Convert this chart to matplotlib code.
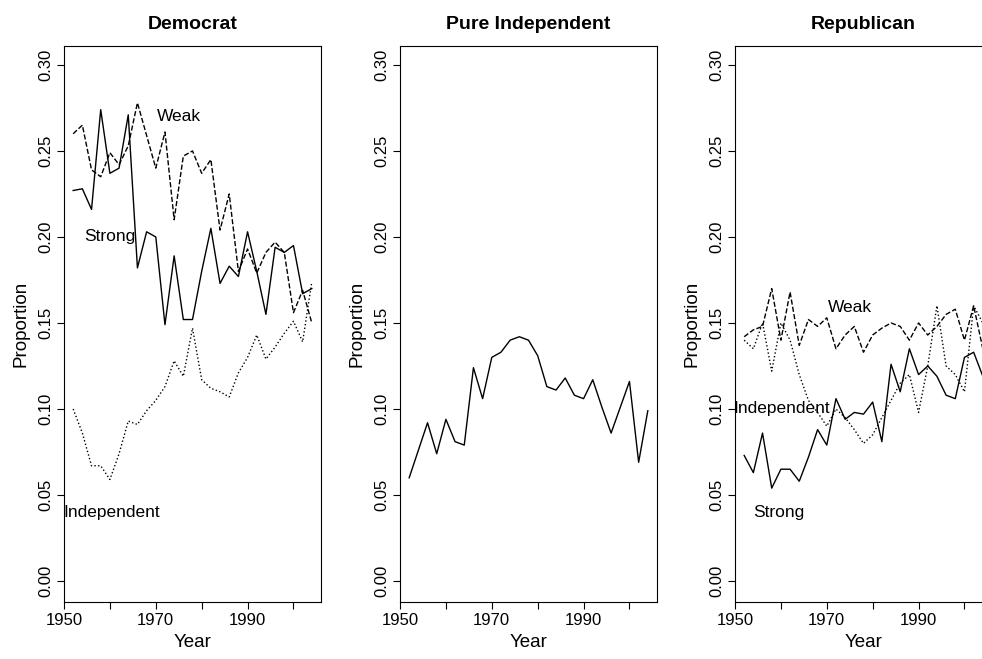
import matplotlib
matplotlib.use("Agg")
import matplotlib.pyplot as plt
import numpy as np

plt.rcParams['font.family'] = ['Liberation Sans', 'DejaVu Sans']

years = np.arange(1952, 2005, 2)

dem_strong = [0.227, 0.228, 0.216, 0.274, 0.237, 0.240, 0.271, 0.182, 0.203, 0.200,
              0.149, 0.189, 0.152, 0.152, 0.180, 0.205, 0.173, 0.183, 0.177, 0.203,
              0.180, 0.155, 0.194, 0.191, 0.195, 0.167, 0.170]
dem_weak = [0.260, 0.265, 0.239, 0.235, 0.249, 0.242, 0.253, 0.278, 0.259, 0.240,
            0.261, 0.210, 0.247, 0.250, 0.237, 0.245, 0.204, 0.225, 0.180, 0.193,
            0.179, 0.191, 0.197, 0.191, 0.156, 0.169, 0.150]
dem_ind = [0.100, 0.086, 0.067, 0.067, 0.059, 0.074, 0.093, 0.091, 0.099, 0.105,
           0.113, 0.128, 0.119, 0.147, 0.117, 0.112, 0.110, 0.107, 0.121, 0.130,
           0.143, 0.129, 0.136, 0.144, 0.151, 0.139, 0.174]

pure_ind = [0.060, 0.076, 0.092, 0.074, 0.094, 0.081, 0.079, 0.124, 0.106, 0.130,
            0.133, 0.140, 0.142, 0.140, 0.131, 0.113, 0.111, 0.118, 0.108, 0.106,
            0.117, 0.101, 0.086, 0.101, 0.116, 0.069, 0.099]

rep_strong = [0.073, 0.063, 0.086, 0.054, 0.065, 0.065, 0.058, 0.072, 0.088, 0.079,
              0.106, 0.094, 0.098, 0.097, 0.104, 0.081, 0.126, 0.110, 0.135, 0.120,
              0.125, 0.119, 0.108, 0.106, 0.130, 0.133, 0.119]
rep_weak = [0.142, 0.146, 0.148, 0.170, 0.140, 0.168, 0.137, 0.152, 0.148, 0.153,
            0.135, 0.143, 0.148, 0.133, 0.143, 0.147, 0.150, 0.148, 0.140, 0.150,
            0.143, 0.148, 0.155, 0.158, 0.140, 0.160, 0.135]
rep_ind = [0.140, 0.135, 0.150, 0.122, 0.150, 0.140, 0.120, 0.105, 0.098, 0.090,
           0.100, 0.095, 0.088, 0.080, 0.085, 0.095, 0.105, 0.115, 0.120, 0.098,
           0.125, 0.160, 0.125, 0.120, 0.110, 0.160, 0.150]

W, H = 982, 659
fig = plt.figure(figsize=(W / 100, H / 100), dpi=100)

def panel(left, title):
    ax = fig.add_axes([left / W, 1 - 602 / H, 257 / W, (602 - 46) / H])
    ax.set_xlim(1950, 2006)
    ax.set_ylim(-0.0122, 0.3110)
    ax.set_xticks([1950, 1960, 1970, 1980, 1990, 2000])
    ax.set_xticklabels(['1950', '', '1970', '', '1990', ''])
    ax.set_yticks(np.arange(0, 0.31, 0.05))
    ax.set_yticklabels(['%.2f' % v for v in np.arange(0, 0.31, 0.05)],
                       rotation=90, va='center')
    ax.tick_params(labelsize=12, length=5, pad=3)
    ax.set_xlabel('Year', fontsize=13.5, labelpad=4)
    ax.set_ylabel('Proportion', fontsize=13.5, labelpad=6)
    ax.set_title(title, fontsize=14, fontweight='bold', pad=12)
    return ax

ax1 = panel(64, 'Democrat')
ax1.plot(years, dem_strong, 'k-', lw=1)
ax1.plot(years, dem_weak, 'k--', lw=1)
ax1.plot(years, dem_ind, 'k:', lw=1)
ax1.text(1970.3, 0.270, 'Weak', fontsize=12.5, va='center')
ax1.text(1954.5, 0.200, 'Strong', fontsize=12.5, va='center')
ax1.text(1949.8, 0.040, 'Independent', fontsize=12.5, va='center')

ax2 = panel(400, 'Pure Independent')
ax2.plot(years, pure_ind, 'k-', lw=1)

ax3 = panel(735, 'Republican')
ax3.plot(years, rep_strong, 'k-', lw=1)
ax3.plot(years, rep_weak, 'k--', lw=1)
ax3.plot(years, rep_ind, 'k:', lw=1)
ax3.text(1970.2, 0.159, 'Weak', fontsize=12.5, va='center')
ax3.text(1949.6, 0.100, 'Independent', fontsize=12.5, va='center')
ax3.text(1954.0, 0.040, 'Strong', fontsize=12.5, va='center')

fig.savefig('out.png', dpi=100)
